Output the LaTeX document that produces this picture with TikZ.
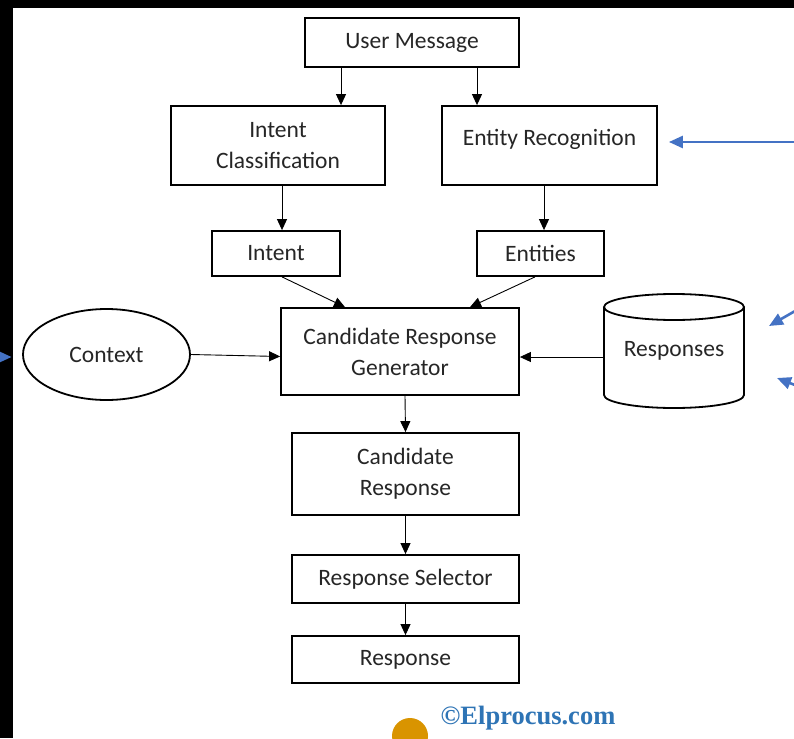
\documentclass[tikz,border=0pt]{standalone}
\usepackage{fontspec}
\setmainfont{Carlito}
\newfontfamily\markfont{Liberation Serif}
\usetikzlibrary{shapes.geometric,arrows.meta}
\definecolor{txtgray}{HTML}{262626}
\definecolor{linkblue}{HTML}{4472C4}
\definecolor{markblue}{HTML}{2E74B5}
\definecolor{dotorange}{HTML}{D99400}

\begin{document}
\begin{tikzpicture}[x=1pt,y=-1pt,
    box/.style={draw, line width=1.8pt, text=txtgray, align=center, inner sep=0pt,
      font=\fontsize{23.5}{31}\selectfont},
    flow/.style={-{Triangle[length=11pt,width=10pt]}, line width=0.9pt},
    feed/.style={-{Triangle[length=14pt,width=12pt]}, line width=2.6pt, linkblue}]
  \useasboundingbox (0,0) rectangle (794,738);
  \fill[white] (0,0) rectangle (794,738);
  \fill[black] (0,0) rectangle (794,8);
  \fill[black] (0,0) rectangle (13,738);

  \node[box, minimum width=214pt, minimum height=49pt] (msg) at (412,42.5) {User Message};
  \node[box, minimum width=214pt, minimum height=79pt] (intcls) at (278,145.5) {Intent\\Classification};
  \node[box, minimum width=215pt, minimum height=79pt] (entrec) at (549.5,145.5) {Entity Recognition\\[-14pt]\mbox{}};
  \node[box, minimum width=128pt, minimum height=45pt] (intent) at (276,253.5) {Intent};
  \node[box, minimum width=127pt, minimum height=45pt] (ents) at (540.5,253.5) {Entities};
  \node[box, minimum width=238pt, minimum height=87pt] (crg) at (400,351.5) {Candidate Response\\Generator};
  \node[box, ellipse, minimum width=167pt, minimum height=91pt] (ctx) at (106.5,354.5) {Context};
  \node[box, draw=none, minimum width=140pt, minimum height=114pt] (resp) at (674,351) {Responses};
  \node[box, minimum width=227pt, minimum height=82pt] (cand) at (405.5,474) {Candidate\\Response};
  \node[box, minimum width=227pt, minimum height=48pt] (sel) at (405.5,579) {Response Selector};
  \node[box, minimum width=227pt, minimum height=47pt] (out) at (405.5,659.5) {Response};

  \draw[line width=1.8pt] (604,307) -- (604,395) arc[start angle=180, end angle=0, x radius=70, y radius=13] -- (744,307);
  \draw[line width=1.8pt] (674,307) ellipse[x radius=70, y radius=13];

  \draw[flow] ([xshift=-71pt]msg.south) -- ([xshift=63pt]intcls.north);
  \draw[flow] ([xshift=65pt]msg.south) -- ([xshift=-72.5pt]entrec.north);
  \draw[flow] ([xshift=4pt]intcls.south) -- ([xshift=6pt]intent.north);
  \draw[flow] ([xshift=-5.5pt]entrec.south) -- ([xshift=3.5pt]ents.north);
  \draw[flow] ([xshift=6pt]intent.south) -- ([xshift=-55pt]crg.north);
  \draw[flow] ([xshift=-5.5pt]ents.south) -- ([xshift=70pt]crg.north);
  \draw[flow] (ctx.east) -- ([yshift=-5pt]crg.west);
  \draw[flow] ([yshift=-6pt]resp.west) -- ([yshift=-5.5pt]crg.east);
  \draw[flow] ([xshift=5pt]crg.south) -- (cand.north);
  \draw[flow] (cand) -- (sel);
  \draw[flow] (sel) -- (out);

  \coordinate (inR) at (800,142);
  \coordinate (inL) at (-20,357);
  \coordinate (inA) at (802,307);
  \coordinate (inB) at (800,387);
  \draw[feed] (inR) -- ([xshift=11pt,yshift=3.5pt]entrec.east);
  \draw[feed] (inL) -- ([xshift=-10.5pt]ctx.west |- inL);
  \draw[feed] (inA) -- (769,326);
  \draw[feed] (inB) -- (777,378);

  \fill[dotorange] (410,736) circle[radius=18];
  \node[text=markblue, font=\markfont\bfseries\fontsize{26.5}{30}\selectfont] (mark) at (528,718) {\textcopyright Elprocus.com};
\end{tikzpicture}
\end{document}
